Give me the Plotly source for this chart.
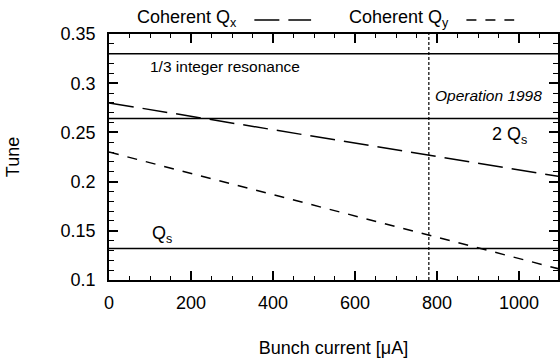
import plotly.graph_objects as go

# Bunch current [uA] and the coherent tune shifts measured against it
current = [0, 1100]
coherent_qx = [0.280, 0.205]
coherent_qy = [0.230, 0.111]

# Reference tunes
third_integer = 0.33
two_qs = 0.264
qs = 0.132
operation_current = 780

x_range = [0, 1095]
y_range = [0.1, 0.35]

FONT = "Liberation Sans, Arial, Helvetica, sans-serif"
INK = "black"

# plot box in pixels (560 x 360 canvas)
L, R, T, B = 109, 0, 34, 80
W, H = 560, 360
PW, PH = W - L - R, H - T - B


def px(x):
    return (x - L) / PW


def py(y):
    return (H - B - y) / PH


def font(size):
    return dict(family=FONT, size=size, color=INK)


fig = go.Figure()

for level in (third_integer, two_qs, qs):
    fig.add_trace(go.Scatter(x=[x_range[0], x_range[1] + 50], y=[level, level], mode="lines",
                             line=dict(color=INK, width=1.5), showlegend=False, hoverinfo="skip"))

fig.add_trace(go.Scatter(x=[operation_current, operation_current], y=y_range, mode="lines",
                         line=dict(color=INK, width=1.2, dash="3px,2px"), showlegend=False,
                         hoverinfo="skip"))

fig.add_trace(go.Scatter(x=current, y=coherent_qx, mode="lines", name="Coherent Qx",
                         line=dict(color=INK, width=1.5, dash="25px,9px"), showlegend=False))
fig.add_trace(go.Scatter(x=current, y=coherent_qy, mode="lines", name="Coherent Qy",
                         line=dict(color=INK, width=1.5, dash="10px,9px"), showlegend=False))

annotations = [
    dict(x=95, y=0.3165, xref="x", yref="y", text="1/3 integer resonance",
         xanchor="left", yanchor="middle", font=font(15.5)),
    dict(x=791, y=0.288, xref="x", yref="y", text="<i>Operation 1998</i>",
         xanchor="left", yanchor="middle", font=font(15.5)),
    dict(x=930, y=0.247, xref="x", yref="y", text="2 Q<sub>s</sub>",
         xanchor="left", yanchor="middle", font=font(18)),
    dict(x=100, y=0.146, xref="x", yref="y", text="Q<sub>s</sub>",
         xanchor="left", yanchor="middle", font=font(18)),
    # legend row above the frame
    dict(x=px(135), y=py(19), xref="paper", yref="paper", text="Coherent Q<sub>x</sub>",
         xanchor="left", yanchor="middle", font=font(18)),
    dict(x=px(348), y=py(19), xref="paper", yref="paper", text="Coherent Q<sub>y</sub>",
         xanchor="left", yanchor="middle", font=font(18)),
]
for a in annotations:
    a["showarrow"] = False

shapes = [
    dict(type="line", xref="paper", yref="paper", x0=px(255), x1=px(312), y0=py(20), y1=py(20),
         line=dict(color=INK, width=1.5, dash="25px,9px")),
    dict(type="line", xref="paper", yref="paper", x0=px(468), x1=px(516), y0=py(20), y1=py(20),
         line=dict(color=INK, width=1.5, dash="10px,9px")),
]

axis_common = dict(
    showgrid=False, zeroline=False, showline=True, linecolor=INK, linewidth=1.5,
    mirror="allticks", ticks="inside", tickcolor=INK, tickwidth=1.5, ticklen=9,
    tickfont=font(18),
)

fig.update_layout(
    width=W, height=H,
    margin=dict(l=L, r=R, t=T, b=B, pad=0),
    paper_bgcolor="white", plot_bgcolor="white",
    font=font(18),
    showlegend=False,
    annotations=annotations,
    shapes=shapes,
    xaxis=dict(range=x_range, tickvals=[0, 200, 400, 600, 800, 1000],
               minor=dict(dtick=50, tick0=0, ticks="inside", ticklen=4, tickcolor=INK, tickwidth=1),
               ticklabelstandoff=6,
               title=dict(text="Bunch current [\u03bcA]", font=font(18), standoff=29),
               **axis_common),
    yaxis=dict(range=y_range, tickvals=[0.1, 0.15, 0.2, 0.25, 0.3, 0.35],
               ticktext=["0.1", "0.15", "0.2", "0.25", "0.3", "0.35"],
               minor=dict(dtick=0.01, tick0=0.1, ticks="inside", ticklen=5, tickcolor=INK, tickwidth=1),
               ticklabelstandoff=8,
               title=dict(text="Tune", font=font(18), standoff=36),
               **axis_common),
)

fig.write_html("out.html")
